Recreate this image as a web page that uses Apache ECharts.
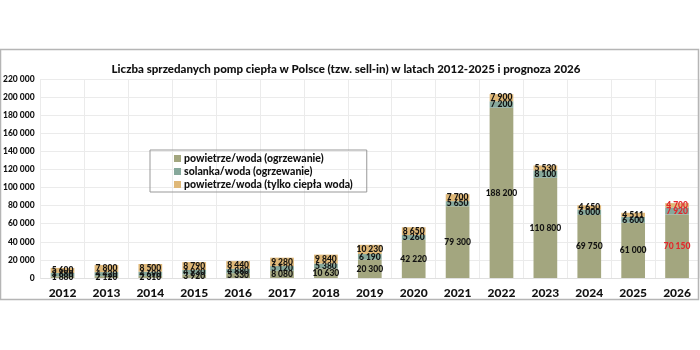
<!DOCTYPE html>
<html>
<head>
<meta charset="utf-8">
<script src="https://cdn.jsdelivr.net/npm/echarts@6/dist/echarts.min.js"></script>
<style>
 html, body { margin: 0; padding: 0; background: #fff; }
 #chart { width: 700px; height: 350px; }
</style>
</head>
<body>
<div id="chart"></div>
<script>
var years = ['2012', '2013', '2014', '2015', '2016', '2017', '2018', '2019', '2020', '2021', '2022', '2023', '2024', '2025', '2026'];
var airWater = [1880, 2120, 2310, 3920, 5330, 8080, 10630, 20300, 42220, 79300, 188200, 110800, 69750, 61000, 70150];
var brineWater = [3680, 4420, 4690, 4930, 4880, 5120, 5380, 6190, 5260, 5650, 7200, 8100, 6000, 6600, 7920];
var dhwOnly = [5600, 7800, 8500, 8790, 8440, 9280, 9840, 10230, 8650, 7700, 7900, 5530, 4650, 4511, 4700];
var names = ['powietrze/woda (ogrzewanie)', 'solanka/woda (ogrzewanie)', 'powietrze/woda (tylko ciepła woda)'];
var colors = ['#a3a67f', '#86a89b', '#dfb878'];
var forecastIdx = 14;
var font = 'Lato';

function fmt(v) {
    return String(v).replace(/\B(?=(\d{3})+(?!\d))/g, ' ');
}

function mkData(arr) {
    return arr.map(function (v, i) {
        if (i === forecastIdx) return { value: v, label: { color: '#e3262b' } };
        return v;
    });
}

function mkSeries(name, arr, color) {
    return {
        name: name,
        type: 'bar',
        stack: 'total',
        barWidth: '54%',
        itemStyle: { color: color },
        label: {
            show: true,
            position: 'inside',
            color: '#111',
            fontSize: 8.5,
            fontWeight: 900,
            fontFamily: font,
            formatter: function (p) { return fmt(p.value); }
        },
        data: mkData(arr)
    };
}

var chart = echarts.init(document.getElementById('chart'));
var option = {
    backgroundColor: '#fff',
    animation: false,
    title: {
        text: 'Liczba sprzedanych pomp ciepła w Polsce (tzw. sell-in) w latach 2012-2025 i prognoza 2026',
        left: 341,
        textAlign: 'center',
        top: 58,
        textStyle: { color: '#111', fontSize: 11.5, fontWeight: 900, fontFamily: font }
    },
    graphic: [{
        type: 'rect',
        shape: { x: 0.5, y: 49.5, width: 698, height: 250 },
        style: { fill: 'none', stroke: '#b5b5b5', lineWidth: 1.5 },
        z: 100
    }],
    legend: {
        data: names,
        orient: 'vertical',
        left: 150,
        top: 150,
        padding: [3, 14, 2, 24],
        itemWidth: 7,
        itemHeight: 7,
        itemGap: 2,
        borderColor: '#999',
        borderWidth: 1,
        icon: 'rect',
        textStyle: { color: '#111', fontSize: 10.5, fontWeight: 900, fontFamily: font, padding: [0, 0, 0, -2] }
    },
    grid: { left: 37, right: 1, top: 79, bottom: 72 },
    xAxis: {
        type: 'category',
        data: years,
        axisLine: { show: true, lineStyle: { color: '#e0e0e0' } },
        axisTick: { show: false },
        splitLine: { show: true, lineStyle: { color: '#ebebeb' } },
        axisLabel: { color: '#111', fontSize: 12, fontWeight: 900, fontFamily: font, margin: 9 }
    },
    yAxis: {
        type: 'value',
        min: 0,
        max: 220000,
        interval: 20000,
        axisLine: { show: false },
        axisTick: { show: false },
        splitLine: { lineStyle: { color: '#ebebeb' } },
        axisLabel: {
            color: '#111', fontSize: 8.5, fontWeight: 900, fontFamily: font, margin: 6,
            formatter: function (v) { return fmt(v); }
        }
    },
    series: [
        mkSeries(names[0], airWater, colors[0]),
        mkSeries(names[1], brineWater, colors[1]),
        mkSeries(names[2], dhwOnly, colors[2])
    ]
};
chart.setOption(option);
</script>
</body>
</html>
